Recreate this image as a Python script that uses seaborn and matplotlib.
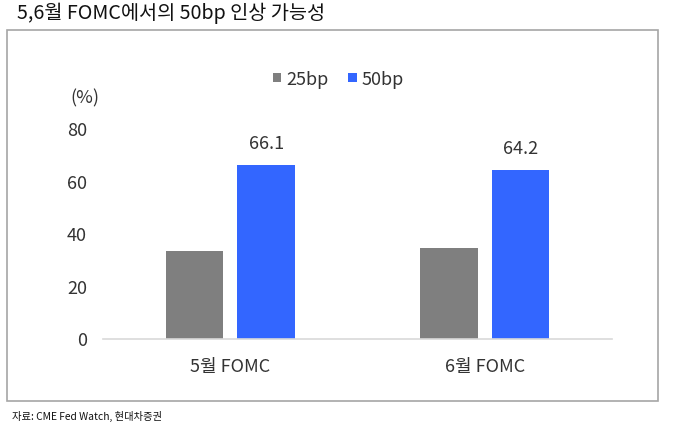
import matplotlib
matplotlib.use("Agg")
import matplotlib.pyplot as plt
import seaborn as sns
import pandas as pd
from matplotlib.patches import Rectangle

categories = ["5월 FOMC", "6월 FOMC"]
series_names = ["25bp", "50bp"]
values_25bp = [33.4, 34.4]
values_50bp = [66.1, 64.2]
yticks = [0, 20, 40, 60, 80]
title = "5,6월 FOMC에서의 50bp 인상 가능성"
source = "자료: CME Fed Watch, 현대차증권"
colors = ["#7f7f7f", "#3366ff"]

df = pd.DataFrame({
    "cat": categories * 2,
    "series": [series_names[0]] * 2 + [series_names[1]] * 2,
    "val": values_25bp + values_50bp,
})

sns.set_theme(style="white")
plt.rcParams["font.family"] = ["Noto Sans CJK KR", "DejaVu Sans"]

fig = plt.figure(figsize=(6.79, 4.31), dpi=100)
ax = fig.add_axes([103 / 679, 1 - 339.5 / 431, (612 - 103) / 679, (339.5 - 129.5) / 431])

sns.barplot(data=df, x="cat", y="val", hue="series", order=categories,
            hue_order=series_names, palette=colors, width=0.564, gap=0.2,
            saturation=1, ax=ax, edgecolor="none", linewidth=0)

ax.set_xlim(-0.5, 1.5)
ax.set_ylim(0, 80)
ax.set_yticks(yticks)
ax.set_xlabel("")
ax.set_ylabel("")
for s in ["top", "right", "left"]:
    ax.spines[s].set_visible(False)
ax.spines["bottom"].set_color("#d9d9d9")
ax.spines["bottom"].set_linewidth(1.2)
ax.tick_params(axis="y", length=0, pad=11.5, labelsize=13, labelcolor="#333333")
ax.tick_params(axis="x", length=0, pad=13, labelsize=13, labelcolor="#333333")

ax.bar_label(ax.containers[1], fmt="%.1f", padding=9, fontsize=13, color="#333333")

ax.legend(loc="center", bbox_to_anchor=(338.5 / 679, 1 - 80 / 431),
          bbox_transform=fig.transFigure, ncol=2, frameon=False, fontsize=13,
          handlelength=0.45, handleheight=0.45, handletextpad=0.3,
          columnspacing=1.1, labelcolor="#333333")

fig.text(84.5 / 679, 1 - 98 / 431, "(%)", ha="center", va="center",
         fontsize=13, color="#333333")
fig.text(17 / 679, 1 - 13 / 431, title, ha="left", va="center",
         fontsize=14.2, color="#111111")
fig.text(12 / 679, 1 - 416 / 431, source, ha="left", va="center",
         fontsize=7.4, color="#111111")

fig.patches.append(Rectangle((7 / 679, 1 - 402 / 431), (658 - 7) / 679,
                             (402 - 31) / 431, transform=fig.transFigure,
                             fill=False, edgecolor="#a6a6a6", linewidth=1.2))

fig.savefig("out.png", dpi=100)
